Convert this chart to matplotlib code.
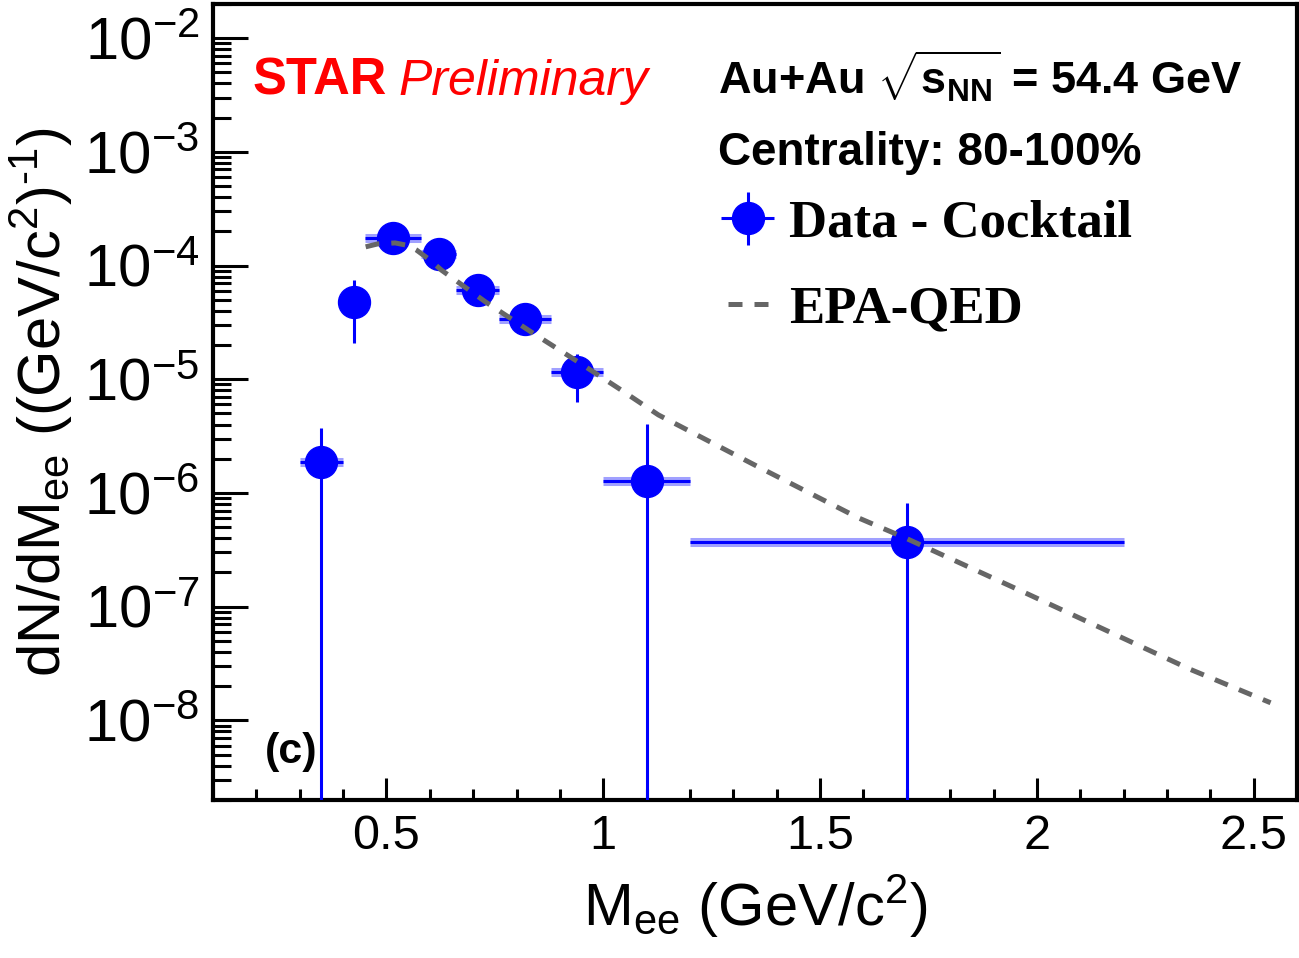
import matplotlib
matplotlib.use('Agg')
import matplotlib.pyplot as plt
import numpy as np
from matplotlib.ticker import (LogLocator, MultipleLocator, NullFormatter, FuncFormatter,
                               FixedLocator, LogFormatterSciNotation)
from matplotlib.lines import Line2D

plt.rcParams['font.family'] = ['Liberation Sans', 'DejaVu Sans']
plt.rcParams['mathtext.fontset'] = 'custom'
plt.rcParams['mathtext.rm'] = 'Liberation Sans'
plt.rcParams['mathtext.it'] = 'Liberation Sans:italic'
plt.rcParams['mathtext.bf'] = 'Liberation Sans:bold'
plt.rcParams['mathtext.default'] = 'regular'

# Data - Cocktail, Au+Au 54.4 GeV, 80-100%
mass = [0.35, 0.424, 0.516, 0.62, 0.712, 0.82, 0.94, 1.10, 1.70]
bin_lo = [0.30, 0.40, 0.45, 0.58, 0.66, 0.76, 0.88, 1.00, 1.20]
bin_hi = [0.40, 0.45, 0.58, 0.66, 0.76, 0.88, 1.00, 1.20, 2.20]
dndm = [1.88e-6, 4.8e-5, 1.75e-4, 1.27e-4, 6.1e-5, 3.4e-5, 1.16e-5, 1.28e-6, 3.72e-7]
dndm_up = [3.74e-6, 7.46e-5, 1.9e-4, 1.38e-4, 6.6e-5, 3.7e-5, 1.67e-5, 4.06e-6, 8.2e-7]
dndm_down = [1e-11, 2.1e-5, 1.6e-4, 1.16e-4, 5.6e-5, 3.1e-5, 6.3e-6, 1e-11, 1e-11]

# EPA-QED curve
epa_m = [0.452, 0.48, 0.52, 0.55, 0.569, 0.60, 0.627, 0.728, 0.834, 0.942, 1.04,
         1.127, 1.357, 1.588, 1.698, 1.972, 2.355, 2.539]
epa_y = [1.46e-4, 1.55e-4, 1.58e-4, 1.5e-4, 1.37e-4, 1.12e-4, 9.1e-5, 4.8e-5, 2.6e-5,
         1.42e-5, 8.1e-6, 4.86e-6, 1.7e-6, 6.05e-7, 4.0e-7, 1.33e-7, 2.8e-8, 1.43e-8]

y_decades = [1e-8, 1e-7, 1e-6, 1e-5, 1e-4, 1e-3, 1e-2]

mass = np.array(mass)
dndm = np.array(dndm)
xerr = [mass - np.array(bin_lo), np.array(bin_hi) - mass]
yerr = [dndm - np.array(dndm_down), np.array(dndm_up) - dndm]

fig = plt.figure(figsize=(12.99, 9.58), dpi=100)
ax = fig.add_axes([0.164, 0.165, 0.8345, 0.831])

ax.plot(epa_m, epa_y, color='#666666', lw=3.6, dashes=(2.8, 2.4), zorder=4)
ax.hlines(dndm, bin_lo, bin_hi, color='#a0a0ff', lw=6.5, zorder=2)
data = ax.errorbar(mass, dndm, xerr=xerr, yerr=yerr, fmt='o', color='#0000ff',
                   ms=23, elinewidth=2.2, capsize=0, zorder=3)

ax.set_yscale('log')
ax.set_xlim(0.1, 2.6)
ax.set_ylim(2e-9, 2e-2)

ax.xaxis.set_major_locator(MultipleLocator(0.5))
ax.xaxis.set_minor_locator(MultipleLocator(0.1))
ax.xaxis.set_major_formatter(FuncFormatter(lambda v, p: '%g' % v))
ax.yaxis.set_major_locator(FixedLocator(y_decades))
ax.yaxis.set_major_formatter(LogFormatterSciNotation())
ax.yaxis.set_minor_locator(LogLocator(base=10, subs=np.arange(2, 10), numticks=20))
ax.yaxis.set_minor_formatter(NullFormatter())

ax.tick_params(axis='x', which='major', direction='in', length=16, width=2.2,
               labelsize=35, pad=10, top=False)
ax.tick_params(axis='x', which='minor', direction='in', length=8, width=2.2, top=False)
ax.tick_params(axis='y', which='major', direction='in', length=25, width=2.2,
               labelsize=43, pad=10, right=False)
ax.tick_params(axis='y', which='minor', direction='in', length=13, width=2.2, right=False)
for s in ax.spines.values():
    s.set_linewidth(3)

ax.set_xlabel(r'M$_{ee}$ (GeV/c$^{2}$)', fontsize=43, labelpad=10)
ax.set_ylabel(r'dN/dM$_{ee}$ ((GeV/c$^{2}$)$^{\text{-}1}$)', fontsize=43, labelpad=6)

ax.text(0.036, 0.886, 'STAR', transform=ax.transAxes, color='red', fontsize=36.5,
        fontweight='bold', va='baseline')
ax.text(0.1707, 0.886, 'Preliminary', transform=ax.transAxes, color='red', fontsize=36,
        fontstyle='italic', va='baseline')
ax.text(0.466, 0.886, r'Au+Au $\sqrt{s_{NN}}$ = 54.4 GeV', transform=ax.transAxes,
        fontsize=32.5, fontweight='bold', va='baseline')
ax.text(0.466, 0.798, 'Centrality: 80-100%', transform=ax.transAxes,
        fontsize=33, fontweight='bold', va='baseline')
ax.text(0.048, 0.046, '(c)', transform=ax.transAxes, fontsize=31,
        fontweight='bold', va='baseline')

ax.legend([data, Line2D([], [], color='#666666', lw=3.6, dashes=(2.8, 2.4))],
          ['Data - Cocktail', 'EPA-QED'], loc='upper left',
          bbox_to_anchor=(0.475, 0.754), frameon=False, borderpad=0, borderaxespad=0,
          handlelength=0.75, handletextpad=0.4, labelspacing=0.72,
          prop={'family': 'Liberation Serif', 'weight': 'bold', 'size': 38})

fig.savefig('out.png', dpi=100)
